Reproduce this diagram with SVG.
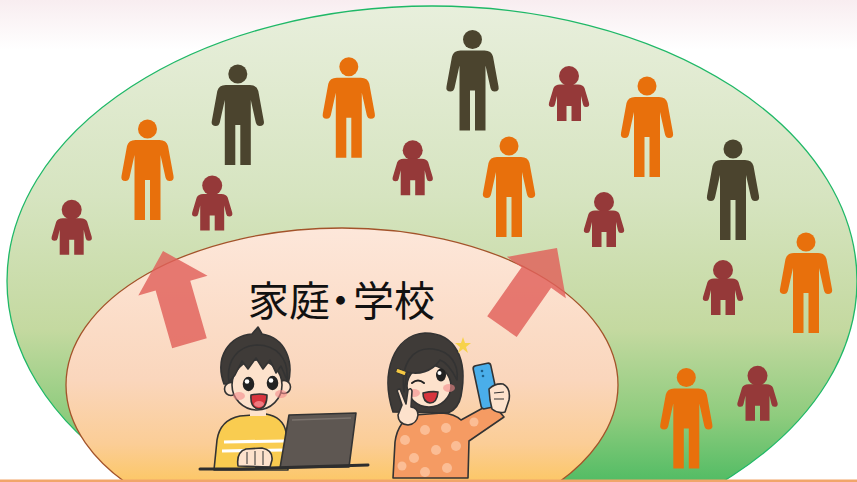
<svg xmlns="http://www.w3.org/2000/svg" xmlns:xlink="http://www.w3.org/1999/xlink" width="857" height="482" viewBox="0 0 857 482">
  <style>
    .dark { fill: #4b442e; }
    .orange { fill: #e8700c; }
    .maroon { fill: #953939; }
    .ink { stroke: #333; stroke-width: 1.6; stroke-linejoin: round; stroke-linecap: round; }
    .skin { fill: #fde2cc; }
    .hair { fill: #3f3b38; }
    .arrow { fill: #e0605a; opacity: 0.82; }
    .label { font-family: "Noto Sans CJK JP", "Noto Sans CJK SC", sans-serif; font-size: 41px; fill: #111; }
  </style>
  <defs>
    <linearGradient id="topHaze" x1="0" y1="0" x2="0" y2="1">
      <stop offset="0" stop-color="#f8edf0"/>
      <stop offset="1" stop-color="#ffffff"/>
    </linearGradient>
    <linearGradient id="worldFill" gradientUnits="userSpaceOnUse" x1="0" y1="6" x2="0" y2="482">
      <stop offset="0" stop-color="#e8efdc"/>
      <stop offset="0.4" stop-color="#d6e4c0"/>
      <stop offset="0.68" stop-color="#c4d9a0"/>
      <stop offset="0.86" stop-color="#8fcc7e"/>
      <stop offset="1" stop-color="#52bc64"/>
    </linearGradient>
    <linearGradient id="homeFill" gradientUnits="userSpaceOnUse" x1="0" y1="228" x2="0" y2="482">
      <stop offset="0" stop-color="#fde7da"/>
      <stop offset="0.6" stop-color="#fad6bc"/>
      <stop offset="0.85" stop-color="#fbcd96"/>
      <stop offset="1" stop-color="#fcc766"/>
    </linearGradient>
    <!-- pictograms: head centre at the origin -->
    <g id="adult">
      <circle r="9.5"/>
      <path d="M -12,11 L 12,11 Q 19,11 20.5,17 L 26,47 Q 27,52 22,52 Q 19,52 18,48.5 L 13,26 L 13,91 L 2.5,91 L 2.5,51 L -2.5,51 L -2.5,91 L -13,91 L -13,26 L -18,48.5 Q -19,52 -22,52 Q -27,52 -26,47 L -20.5,17 Q -19,11 -12,11 Z"/>
    </g>
    <g id="child">
      <circle r="10"/>
      <path d="M -9,8.5 L 9,8.5 Q 14,8.5 15.5,12 L 20,27 Q 21,31 17,31 Q 14.5,31 14,28.5 L 12,20 L 12,45 L 2.5,45 L 2.5,30 L -2.5,30 L -2.5,45 L -12,45 L -12,20 L -14,28.5 Q -14.5,31 -17,31 Q -21,31 -20,27 L -15.5,12 Q -14,8.5 -9,8.5 Z"/>
    </g>
    <polygon id="upArrow" points="0,0 36,36 18,36 18,96 -18,96 -18,36 -36,36"/>
  </defs>

  <!-- backdrop -->
  <rect width="857" height="482" fill="#ffffff"/>
  <rect width="857" height="50" fill="url(#topHaze)"/>

  <!-- outer world -->
  <g id="society">
    <ellipse cx="432" cy="281" rx="425" ry="275" fill="url(#worldFill)" stroke="#1fb867" stroke-width="1.3"/>
  </g>

  <!-- people in society -->
  <g id="people">
    <use href="#adult" x="237.8" y="74" class="dark"/>
    <use href="#adult" x="472.5" y="39.5" class="dark"/>
    <use href="#adult" x="733" y="149" class="dark"/>
    <use href="#adult" x="147.5" y="129" class="orange"/>
    <use href="#adult" x="348.8" y="66.7" class="orange"/>
    <use href="#adult" x="647" y="86" class="orange"/>
    <use href="#adult" x="509" y="146" class="orange"/>
    <use href="#adult" x="806" y="242" class="orange"/>
    <use href="#adult" x="686.3" y="377.5" class="orange"/>
    <use href="#child" x="71.7" y="209.7" class="maroon"/>
    <use href="#child" x="212.2" y="185.5" class="maroon"/>
    <use href="#child" x="412.7" y="150.3" class="maroon"/>
    <use href="#child" x="569" y="76" class="maroon"/>
    <use href="#child" x="604" y="202" class="maroon"/>
    <use href="#child" x="723" y="270" class="maroon"/>
    <use href="#child" x="757.5" y="375.8" class="maroon"/>
  </g>

  <!-- home and school -->
  <g id="home-school">
    <ellipse cx="342" cy="385" rx="276" ry="157" fill="url(#homeFill)" stroke="#a3532a" stroke-width="1.3"/>
    <text class="label" x="248 289 320 353 394" y="316">家庭・学校</text>
  </g>

  <!-- boy at a laptop -->
  <g id="boy">
    <path class="ink" fill="#f9cc50" d="M 214,470 L 217,440 Q 220,420 240,416 L 266,414 Q 283,417 286,432 L 288,470 Z"/>
    <path d="M 224,442 L 284,441 M 222,451 L 284,450" stroke="#ffffff" stroke-width="3.2" fill="none"/>
    <rect class="skin" x="250" y="404" width="16" height="12"/>
    <path class="hair ink" d="M 224,384 C 214,356 230,336 252,334 L 258,327 L 262,334 C 286,338 294,362 288,384 Z"/>
    <circle class="skin ink" cx="231" cy="389" r="6.5"/>
    <circle class="skin ink" cx="284" cy="387" r="6.5"/>
    <ellipse class="skin ink" cx="257" cy="385" rx="25" ry="25"/>
    <path class="hair ink" d="M 229,382 C 226,360 238,346 257,345 C 276,345 289,358 287,380 L 281,366 L 276,373 L 270,360 L 263,369 L 256,358 L 248,369 L 242,361 L 235,375 Z"/>
    <ellipse cx="248.5" cy="384" rx="5.8" ry="7.2" fill="#222"/>
    <ellipse cx="272.5" cy="383" rx="5.8" ry="7.2" fill="#222"/>
    <circle cx="247" cy="381.5" r="2.3" fill="#fff"/>
    <circle cx="271" cy="380.5" r="2.3" fill="#fff"/>
    <ellipse cx="239" cy="396" rx="6" ry="4" fill="#f48b8b" opacity="0.6"/>
    <ellipse cx="281" cy="394" rx="6" ry="4" fill="#f48b8b" opacity="0.6"/>
    <path class="ink" fill="#d8343d" d="M 251,395 Q 260,393 267,395 Q 267,408 259,409 Q 250,408 251,395 Z"/>
    <ellipse cx="259" cy="404" rx="5" ry="3" fill="#f07a80"/>
    <path class="ink" fill="#5e5752" d="M 289,415 L 356,413 L 349,467 L 280,468 Z"/>
    <path d="M 292,420 L 351,418" stroke="#7a726c" stroke-width="1.5" fill="none"/>
    <path class="skin ink" d="M 238,466 Q 236,452 246,449 L 262,448 Q 273,450 272,460 L 270,467 Z"/>
    <path d="M 247,452 L 247,464 M 255,451 L 255,465 M 263,451 L 263,465" stroke="#333" stroke-width="1" fill="none"/>
    <path d="M 200,469 L 238,469 M 238,469 L 368,465" stroke="#2e2e2e" stroke-width="3" stroke-linecap="round" fill="none"/>
  </g>

  <!-- girl taking a selfie -->
  <g id="girl">
    <path class="hair ink" d="M 393,412 C 380,372 394,335 425,333 C 456,333 468,360 461,396 C 459,406 453,411 448,413 Z"/>
    <path class="ink" fill="#f59b63" d="M 393,478 L 395,442 Q 398,420 415,415 L 442,413 Q 455,414 461,420 L 492,403 L 504,417 L 469,441 L 468,478 Z"/>
    <g fill="#fbbd95">
      <circle cx="405" cy="440" r="5"/>
      <circle cx="425" cy="430" r="5"/>
      <circle cx="446" cy="428" r="5"/>
      <circle cx="414" cy="458" r="5"/>
      <circle cx="436" cy="450" r="5"/>
      <circle cx="456" cy="446" r="5"/>
      <circle cx="425" cy="472" r="5"/>
      <circle cx="447" cy="468" r="5"/>
      <circle cx="474" cy="422" r="4.5"/>
      <circle cx="402" cy="466" r="4.5"/>
    </g>
    <ellipse class="skin ink" cx="429" cy="386" rx="22" ry="21"/>
    <path class="hair ink" d="M 404,392 C 400,362 414,347 433,349 C 450,351 459,364 457,380 C 452,370 446,362 440,360 C 432,372 418,375 407,372 Z"/>
    <rect x="-5" y="-2.2" width="10" height="4.4" rx="1" fill="#f5c842" stroke="#333" stroke-width="1" transform="translate(401,372) rotate(20)"/>
    <path d="M 412,383 Q 418,378 424,383" stroke="#222" stroke-width="2" fill="none" stroke-linecap="round"/>
    <ellipse cx="441" cy="375" rx="5" ry="6.5" fill="#222"/>
    <circle cx="439.5" cy="373" r="2" fill="#fff"/>
    <ellipse cx="414" cy="393" rx="6" ry="4" fill="#f48b8b" opacity="0.6"/>
    <ellipse cx="449" cy="388" rx="6" ry="4" fill="#f48b8b" opacity="0.6"/>
    <path class="ink" fill="#d8343d" d="M 423,393 Q 432,391 438,392 Q 437,403 430,403 Q 423,402 423,393 Z"/>
    <path class="skin ink" d="M 398,393 Q 396,389 400,389 L 406,404 L 408,390 Q 411,387 412,391 L 411,407 Q 418,408 418,415 Q 417,424 408,425 Q 398,424 398,415 L 402,405 Z"/>
    <rect x="-9" y="-22" width="18" height="44" rx="3" fill="#4aaeea" stroke="#333" stroke-width="1.6" transform="translate(486,386) rotate(-12)"/>
    <circle cx="482" cy="371" r="1.3" fill="#1d5f8a"/>
    <circle cx="483" cy="376" r="1.3" fill="#1d5f8a"/>
    <path class="skin ink" d="M 489,389 Q 495,383 503,384 Q 511,388 509,400 L 505,412 Q 498,414 492,409 L 490,400 Z"/>
    <path d="M 494,393 L 504,392 M 494,399 L 504,399" stroke="#333" stroke-width="1" fill="none"/>
    <polygon fill="#f7d24a" points="463,337 465,343 471,343 466,347 468,353 463,349 458,353 460,347 455,343 461,343"/>
  </g>

  <!-- connectors: growth arrows from home and school into society -->
  <g id="connectors">
    <use href="#upArrow" class="arrow" transform="translate(163,251) rotate(-16)"/>
    <use href="#upArrow" class="arrow" transform="translate(557,248) rotate(35)"/>
  </g>

  <!-- floor line -->
  <rect x="0" y="479.5" width="857" height="2.5" fill="#f1a56a"/>
</svg>
